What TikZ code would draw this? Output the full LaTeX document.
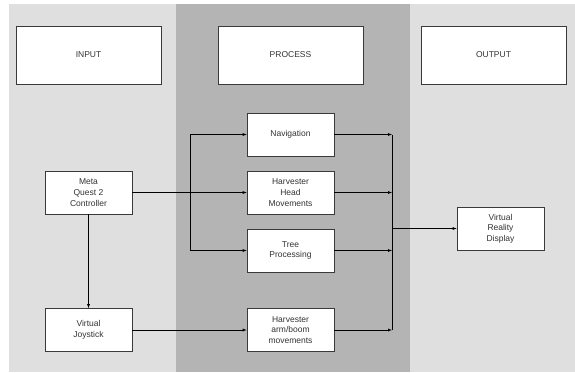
\documentclass[tikz,border=0pt]{standalone}
\usepackage{fontspec}
\setmainfont{Liberation Sans}
\usetikzlibrary{positioning}
\definecolor{sidegray}{HTML}{DFDFDF}
\definecolor{midgray}{HTML}{B4B4B4}
\definecolor{boxline}{HTML}{3A3A3A}
\begin{document}
\begin{tikzpicture}[x=1pt, y=-1pt,
	box/.style={draw=boxline, fill=white, line width=0.6pt, align=center, text=black!80, font=\fontsize{8.5}{10.7}\selectfont, inner sep=0pt},
	headbox/.style={box, minimum width=145pt, minimum height=58pt},
	stepbox/.style={box, minimum width=87pt, minimum height=43pt}]

\useasboundingbox (0,0) rectangle (575,372);
\fill[white] (0,0) rectangle (575,372);
\fill[sidegray] (9,4) rectangle (176,372);
\fill[midgray] (176,4) rectangle (410,372);
\fill[sidegray] (410,4) rectangle (575,372);

\node[headbox] (input) at (88.5, 55) {INPUT};
\node[headbox] (process) at (290.5, 55) {PROCESS};
\node[headbox] (output) at (493.5, 55) {OUTPUT};

\node[stepbox] (nav) at (290.5, 134.5) {Navigation};
\node[stepbox] (head) at (290.5, 192.5) {Harvester\\Head\\Movements};
\node[stepbox] (tree) at (290.5, 250.5) {Tree\\Processing};
\node[stepbox] (arm) at (290.5, 330) {Harvester\\arm/boom\\movements};

\node[stepbox] (meta) at (88.5, 192.5) {Meta\\Quest 2\\Controller};
\node[stepbox] (joy) at (88.5, 330) {Virtual\\Joystick};

\node[stepbox] (vr) at (500.5, 228.5) {Virtual\\Reality\\Display};

\coordinate (fork) at (190, 192.5);
\coordinate (merge) at (392, 228.5);

\draw[->,>=latex] (meta) -- (head);
\draw[->,>=latex] (fork) |- (nav);
\draw[->,>=latex] (fork) |- (tree);
\draw[->,>=latex] (meta) -- (joy);
\draw[->,>=latex] (joy) -- (arm);

%\draw (nav.east -| merge) -- (arm.east -| merge);
\draw[->,>=latex] (nav) -- (nav -| merge);
\draw[->,>=latex] (head) -- (head -| merge);
\draw[->,>=latex] (tree) -- (tree -| merge);
\draw[->,>=latex] (arm) -- (arm -| merge);
\draw (nav -| merge) -- (arm -| merge);
\draw[->,>=latex] (merge) -- (vr);

\end{tikzpicture}
\end{document}
